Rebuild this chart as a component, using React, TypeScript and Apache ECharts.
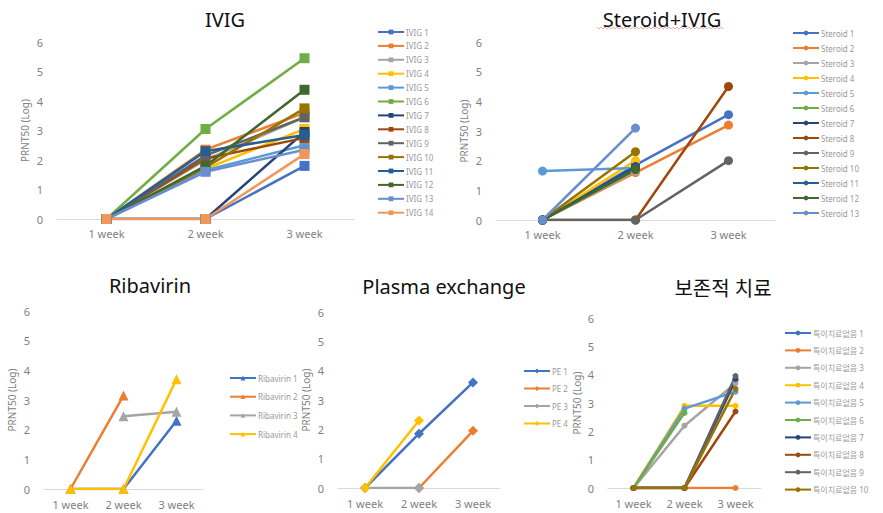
import React, { useEffect, useRef } from "react";
import * as echarts from "echarts";

const weeks = ["1 week", "2 week", "3 week"];

// Office-style series palette
const palette = [
  "#4472C4", "#ED7D31", "#A5A5A5", "#FFC000", "#5B9BD5", "#70AD47", "#264478",
  "#9E480E", "#636363", "#997300", "#255E91", "#43682B", "#698ED0", "#F1975A",
];

const ivigNames = [
  "IVIG 1", "IVIG 2", "IVIG 3", "IVIG 4", "IVIG 5", "IVIG 6", "IVIG 7",
  "IVIG 8", "IVIG 9", "IVIG 10", "IVIG 11", "IVIG 12", "IVIG 13", "IVIG 14",
];
const ivigValues: (number | null)[][] = [
  [0, 0, 1.8],
  [0, 2.35, 3.6],
  [0, 2.0, 3.45],
  [0, 1.7, 3.05],
  [0, 1.65, 2.5],
  [0, 3.05, 5.45],
  [0, 0, 2.95],
  [0, 2.05, 2.75],
  [0, 2.15, 3.45],
  [0, 1.75, 3.75],
  [0, 2.3, 2.85],
  [0, 1.8, 4.38],
  [0, 1.6, 2.35],
  [0, 0, 2.2],
];

const steroidNames = [
  "Steroid 1", "Steroid 2", "Steroid 3", "Steroid 4", "Steroid 5", "Steroid 6", "Steroid 7",
  "Steroid 8", "Steroid 9", "Steroid 10", "Steroid 11", "Steroid 12", "Steroid 13",
];
const steroidValues: (number | null)[][] = [
  [0, 1.85, 3.55],
  [0, 1.6, 3.2],
  [0, 1.65, null],
  [0, 2.0, null],
  [1.65, 1.75, null],
  [0, 1.7, null],
  [0, 1.8, null],
  [0, 0, 4.5],
  [0, 0, 2.0],
  [0, 2.3, null],
  [0, 1.75, null],
  [0, 1.7, null],
  [0, 3.1, null],
];

const ribavirinNames = ["Ribavirin 1", "Ribavirin 2", "Ribavirin 3", "Ribavirin 4"];
const ribavirinValues: (number | null)[][] = [
  [0, 0, 2.3],
  [0, 3.15, null],
  [null, 2.45, 2.6],
  [0, 0, 3.7],
];

const peNames = ["PE 1", "PE 2", "PE 3", "PE 4"];
const peValues: (number | null)[][] = [
  [0, 1.85, 3.6],
  [null, 0, 1.95],
  [0, 0, null],
  [0, 2.3, null],
];

const supportNames = [
  "특이치료없음 1", "특이치료없음 2", "특이치료없음 3", "특이치료없음 4", "특이치료없음 5",
  "특이치료없음 6", "특이치료없음 7", "특이치료없음 8", "특이치료없음 9", "특이치료없음 10",
];
const supportValues: (number | null)[][] = [
  [0, 0, 3.8],
  [0, 0, 0],
  [0, 2.2, 3.7],
  [0, 2.9, 2.9],
  [0, 2.8, 3.4],
  [0, 2.65, null],
  [0, 0, 3.85],
  [0, 0, 2.7],
  [0, 0, 3.95],
  [0, 0, 3.5],
];

const yTicks = { min: 0, max: 6, interval: 1 };

const FONT = "'Noto Sans', 'Noto Sans CJK KR', sans-serif";
const AXIS_TEXT = "#7f7f7f";

type Panel = {
  title: string;
  titleX: number;
  titleY: number;
  grid: { left: number; top: number; width: number; height: number };
  names: string[];
  values: (number | null)[][];
  symbol: string;
  symbolSize: number;
  nameGap: number;
  labelMargin: number;
  legend: { left: number; top: number; gap: number };
};

const panels: Panel[] = [
  {
    title: "IVIG",
    titleX: 220,
    titleY: 4,
    grid: { left: 57, top: 42, width: 297, height: 177 },
    names: ivigNames,
    values: ivigValues,
    symbol: "rect",
    symbolSize: 10,
    nameGap: 27,
    labelMargin: 9,
    legend: { left: 372, top: 22, gap: 13.9 },
  },
  {
    title: "Steroid+IVIG",
    titleX: 657,
    titleY: 4,
    grid: { left: 496, top: 42, width: 279, height: 178 },
    names: steroidNames,
    values: steroidValues,
    symbol: "circle",
    symbolSize: 9,
    nameGap: 27,
    labelMargin: 9,
    legend: { left: 787, top: 23, gap: 15 },
  },
  {
    title: "Ribavirin",
    titleX: 145,
    titleY: 270,
    grid: { left: 44, top: 311, width: 159, height: 178 },
    names: ribavirinNames,
    values: ribavirinValues,
    symbol: "triangle",
    symbolSize: 10,
    nameGap: 27,
    labelMargin: 10,
    legend: { left: 224, top: 368, gap: 18.7 },
  },
  {
    title: "Plasma exchange",
    titleX: 439,
    titleY: 271,
    grid: { left: 338, top: 312, width: 162, height: 176 },
    names: peNames,
    values: peValues,
    symbol: "diamond",
    symbolSize: 10,
    nameGap: 27,
    labelMargin: 10,
    legend: { left: 518, top: 361, gap: 17.5 },
  },
  {
    title: "보존적 치료",
    titleX: 718,
    titleY: 273,
    grid: { left: 608, top: 318, width: 153, height: 170 },
    names: supportNames,
    values: supportValues,
    symbol: "circle",
    symbolSize: 6,
    nameGap: 26,
    labelMargin: 10,
    legend: { left: 779, top: 323, gap: 17.4 },
  },
];

// Red wavy proof-reading underline beneath the "Steroid+IVIG" heading
function wavyUnderline(x0: number, x1: number, y: number) {
  const pts: number[][] = [];
  let up = true;
  for (let x = x0; x <= x1; x += 2) {
    pts.push([x, up ? y - 1 : y + 1]);
    up = !up;
  }
  return pts;
}

function buildOption() {
  const title: any[] = [];
  const grid: any[] = [];
  const xAxis: any[] = [];
  const yAxis: any[] = [];
  const legend: any[] = [];
  const series: any[] = [];

  panels.forEach((p, i) => {
    title.push({
      text: p.title,
      left: p.titleX,
      top: p.titleY,
      textAlign: "center",
      textStyle: {
        fontFamily: FONT,
        fontSize: 20,
        fontWeight: "normal",
        color: "#111",
      },
    });
    grid.push({ ...p.grid, containLabel: false });
    xAxis.push({
      type: "category",
      gridIndex: i,
      data: weeks,
      boundaryGap: true,
      axisLine: { lineStyle: { color: "#d9d9d9", width: 1 } },
      axisTick: { show: false },
      axisLabel: { color: AXIS_TEXT, fontSize: 11, fontFamily: FONT, margin: p.labelMargin },
      splitLine: { show: false },
    });
    yAxis.push({
      type: "value",
      gridIndex: i,
      ...yTicks,
      name: "PRNT50 (Log)",
      nameLocation: "middle",
      nameRotate: 90,
      nameGap: p.nameGap,
      nameTextStyle: { color: AXIS_TEXT, fontSize: 10, fontFamily: FONT },
      axisLine: { show: false },
      axisTick: { show: false },
      splitLine: { show: false },
      axisLabel: { color: AXIS_TEXT, fontSize: 11, fontFamily: FONT, margin: 14 },
    });
    legend.push({
      orient: "vertical",
      left: p.legend.left,
      top: p.legend.top,
      data: p.names,
      itemWidth: 26,
      itemHeight: 6,
      itemGap: p.legend.gap - 10,
      textStyle: {
        color: "#999999",
        fontSize: 8,
        lineHeight: 10,
        fontFamily: FONT,
        padding: [0, 0, 0, -3],
      },
    });
    p.names.forEach((name, k) => {
      series.push({
        type: "line",
        name,
        xAxisIndex: i,
        yAxisIndex: i,
        data: p.values[k],
        connectNulls: false,
        symbol: p.symbol,
        symbolSize: p.symbolSize,
        showSymbol: true,
        color: palette[k % palette.length],
        lineStyle: { width: 2.5 },
        emphasis: { disabled: true },
      });
    });
  });

  return {
    animation: false,
    backgroundColor: "#ffffff",
    title,
    grid,
    xAxis,
    yAxis,
    legend,
    series,
    graphic: [
      {
        type: "polyline",
        silent: true,
        shape: { points: wavyUnderline(597, 723, 28) },
        style: { stroke: "#e8a0a0", lineWidth: 0.8, fill: null },
      },
    ],
  };
}

export default function App() {
  const ref = useRef<HTMLDivElement>(null);

  useEffect(() => {
    if (!ref.current) return;
    const chart = echarts.init(ref.current, undefined, { renderer: "svg" });
    chart.setOption(buildOption() as any);
    return () => chart.dispose();
  }, []);

  return (
    <div
      ref={ref}
      style={{ position: "fixed", left: 0, top: 0, width: 883, height: 513, background: "#fff" }}
    />
  );
}
